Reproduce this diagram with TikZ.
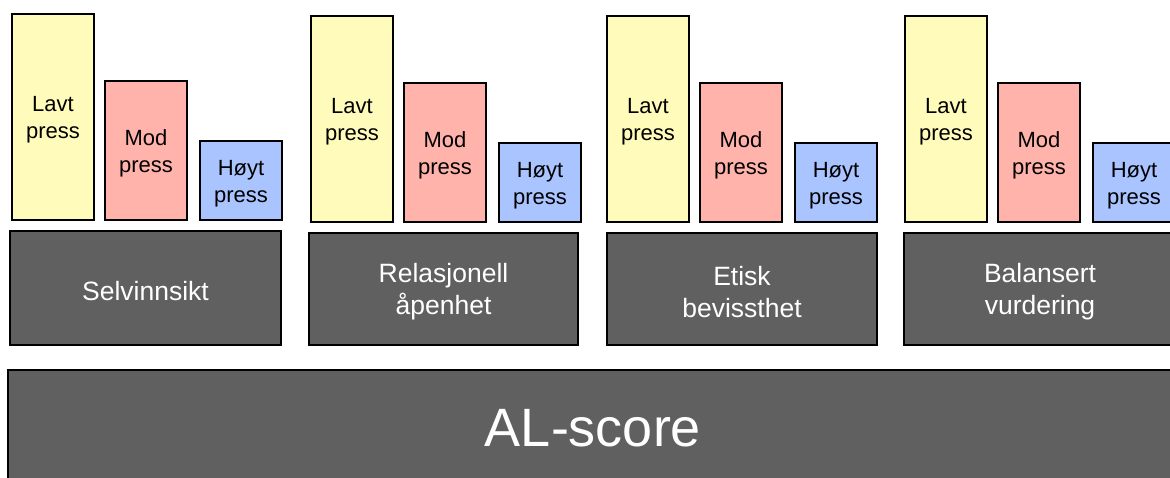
\documentclass[tikz,border=0pt]{standalone}
\usepackage{fontspec}
\setmainfont{Liberation Sans}
\definecolor{cyel}{HTML}{FFFBBA}
\definecolor{cpink}{HTML}{FFB3AB}
\definecolor{cblue}{HTML}{A9C4FF}
\definecolor{cdark}{HTML}{606060}
\tikzset{
  bar/.style={draw=black, line width=1.8pt, anchor=north west, inner sep=0pt, outer sep=0pt,
    minimum width=82pt},
  bartext/.style={align=center, font=\fontsize{22}{27}\selectfont, text=black, yshift=-3pt, inner sep=0pt},
  lowbar/.style={bar, fill=cyel},
  modbar/.style={bar, fill=cpink},
  highbar/.style={bar, fill=cblue},
  dimbox/.style={draw=black, line width=1.8pt, fill=cdark, anchor=north west, inner sep=0pt, outer sep=0pt},
  dimtext/.style={align=center, text=white, font=\fontsize{26.5}{32}\selectfont, yshift=-3pt, inner sep=0pt},
  scorebox/.style={draw=black, line width=2pt, fill=cdark, anchor=north west, inner sep=0pt, outer sep=0pt,
    text=white, font=\fontsize{54}{60}\selectfont}
}
\begin{document}
\begin{tikzpicture}[x=1pt,y=-1pt]
\useasboundingbox (0,0) rectangle (1170,478);
\clip (0,0) rectangle (1170,478);
\foreach \i/\x/\t/\dx/\dw/\lab in {1/12/0/10/271/{Selvinnsikt},2/311/2/309/269/{Relasjonell\\åpenhet},3/607/2/607/270/{Etisk\\bevissthet},4/905/2/904/272/{Balansert\\vurdering}}{
  \node[lowbar, minimum height={206pt}, label={[bartext]center:{Lavt\\press}}] (l\i) at (\x,14+\t) {};
  \node[modbar, minimum height={139pt}, label={[bartext]center:{Mod\\press}}] (m\i) at (\x+93,81+\t) {};
  \node[highbar, minimum height={79pt}, label={[bartext]center:{Høyt\\press}}] (h\i) at (\x+188,141+\t) {};
  \node[dimbox, minimum width=\dw pt, minimum height={114pt-\t pt}, label={[dimtext]center:{\lab}}] (d\i) at (\dx,231+\t) {};
}
\node[scorebox, minimum width=1170pt, minimum height=116pt] (al) at (8,370) {AL-score};
\end{tikzpicture}
\end{document}
